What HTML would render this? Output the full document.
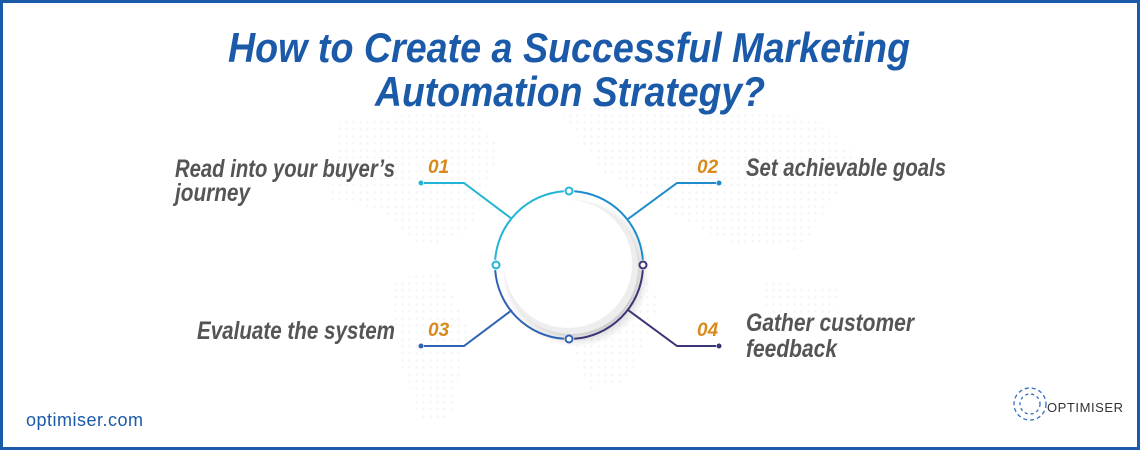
<!DOCTYPE html>
<html><head><meta charset="utf-8"><style>
html,body{margin:0;padding:0;background:#fff}
svg{display:block}
.t{font-family:"Liberation Sans Narrow","Liberation Sans",sans-serif;font-weight:bold;font-style:italic}
</style></head><body>
<svg width="1140" height="450" viewBox="0 0 1140 450" xmlns="http://www.w3.org/2000/svg">
<defs>
<pattern id="dots" width="7" height="7" patternUnits="userSpaceOnUse"><circle cx="3.5" cy="3.5" r="1.2" fill="#eef0f3"/></pattern>
<radialGradient id="sh" cx="0.5" cy="0.5" r="0.5"><stop offset="0.82" stop-color="#aaa" stop-opacity="0.55"/><stop offset="1" stop-color="#bbb" stop-opacity="0"/></radialGradient>
</defs>
<rect x="0" y="0" width="1140" height="450" fill="#fff"/>
<g opacity="0.8">
<path d="M340 120 L470 110 L500 150 L470 230 L420 250 L380 210 L330 200 Z" fill="url(#dots)"/>
<path d="M390 280 L440 270 L470 330 L450 420 L420 420 L400 360 Z" fill="url(#dots)"/>
<path d="M560 110 L700 100 L820 120 L860 160 L800 250 L720 240 L650 200 L600 170 Z" fill="url(#dots)"/>
<path d="M540 250 L620 240 L660 300 L630 380 L590 390 L560 320 Z" fill="url(#dots)"/>
<path d="M760 280 L840 290 L830 330 L770 320 Z" fill="url(#dots)"/>
</g>
<rect x="1.5" y="1.5" width="1137" height="447" fill="none" stroke="#1a5aa8" stroke-width="3"/>
<text class="t" x="569" y="62" text-anchor="middle" font-size="42" fill="#1a5aa8" textLength="682" lengthAdjust="spacingAndGlyphs">How to Create a Successful Marketing</text>
<text class="t" x="570" y="106" text-anchor="middle" font-size="42" fill="#1a5aa8" textLength="390" lengthAdjust="spacingAndGlyphs">Automation Strategy?</text>

<circle cx="576" cy="273" r="74" fill="url(#sh)"/>
<circle cx="571" cy="267" r="67" fill="#eeeeee"/>
<circle cx="568" cy="264" r="64" fill="#fff"/>

<g fill="none" stroke-width="2">
<path d="M495.2 259.8 A74 74 0 0 1 563.8 191.2" stroke="#22b5d8"/>
<path d="M574.2 191.2 A74 74 0 0 1 642.8 259.8" stroke="#1e8ccc"/>
<path d="M642.8 270.2 A74 74 0 0 1 574.2 338.8" stroke="#3a3576"/>
<path d="M563.8 338.8 A74 74 0 0 1 495.2 270.2" stroke="#2e62b2"/>
<polyline points="424,183 464,183 512,219" stroke="#22b5d8"/>
<polyline points="716,183 677,183 628,219" stroke="#1e8ccc"/>
<polyline points="424,346 464,346 512,310" stroke="#2e62b2"/>
<polyline points="716,346 677,346 628,310" stroke="#3a3576"/>
</g>
<g stroke-width="2" fill="#fff">
<circle cx="569" cy="191" r="3.5" stroke="#22b5d8"/>
<circle cx="496" cy="265" r="3.5" stroke="#22b5d8"/>
<circle cx="643" cy="265" r="3.5" stroke="#3a3576"/>
<circle cx="569" cy="339" r="3.5" stroke="#2e62b2"/>
</g>
<circle cx="421" cy="183" r="2.5" fill="#22b5d8"/>
<circle cx="719" cy="183" r="2.5" fill="#1e8ccc"/>
<circle cx="421" cy="346" r="2.5" fill="#2e62b2"/>
<circle cx="719" cy="346" r="2.5" fill="#3a3576"/>

<g class="t" font-size="19" fill="#d98a1c">
<text x="428" y="173">01</text>
<text x="697" y="173">02</text>
<text x="428" y="336">03</text>
<text x="697" y="336">04</text>
</g>
<g class="t" font-size="25" fill="#555">
<text x="175" y="177" textLength="220" lengthAdjust="spacingAndGlyphs">Read into your buyer’s</text>
<text x="175" y="201" textLength="75" lengthAdjust="spacingAndGlyphs">journey</text>
<text x="746" y="176" textLength="200" lengthAdjust="spacingAndGlyphs">Set achievable goals</text>
<text x="197" y="339" textLength="198" lengthAdjust="spacingAndGlyphs">Evaluate the system</text>
<text x="746" y="331" textLength="168" lengthAdjust="spacingAndGlyphs">Gather customer</text>
<text x="746" y="357" textLength="91" lengthAdjust="spacingAndGlyphs">feedback</text>
</g>
<text x="26" y="426" font-family="Liberation Sans,sans-serif" font-size="18" fill="#1a5aa8" textLength="117">optimiser.com</text>
<g fill="none" stroke="#2f6fc0" stroke-width="1.3">
<circle cx="1030" cy="404" r="16" stroke-dasharray="4 3"/>
<circle cx="1030" cy="404" r="10" stroke-dasharray="3 3"/>
</g>
<text x="1047" y="412" font-family="Liberation Sans,sans-serif" font-size="13" fill="#333" textLength="76">OPTIMISER</text>
</svg>
</body></html>
